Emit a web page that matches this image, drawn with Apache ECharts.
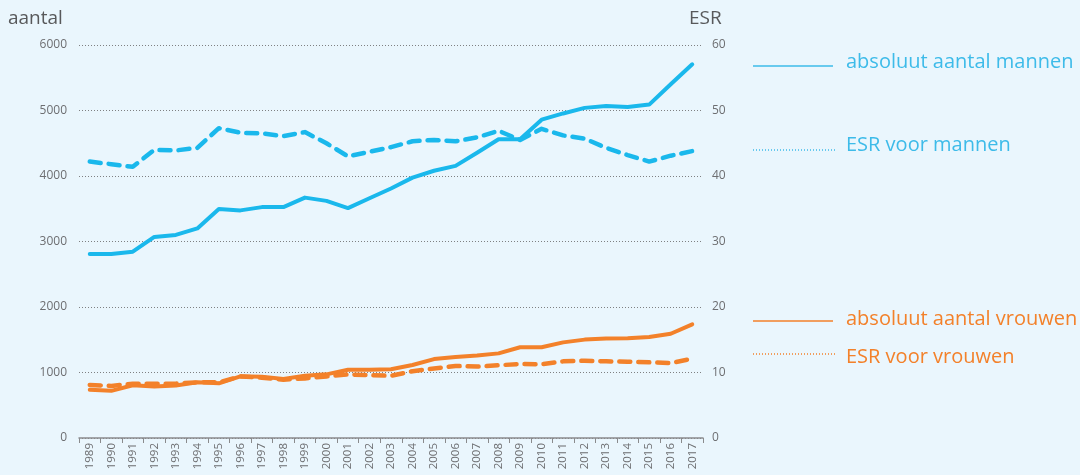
<!DOCTYPE html>
<html>
<head>
<meta charset="utf-8">
<script src="https://cdn.jsdelivr.net/npm/echarts@6/dist/echarts.min.js"></script>
<style>
html,body{margin:0;padding:0;background:#eaf6fd;}
#c{width:1080px;height:475px;}
</style>
</head>
<body>
<div id="c"></div>
<script>
const years = ['1989','1990','1991','1992','1993','1994','1995','1996','1997','1998','1999','2000','2001','2002','2003','2004','2005','2006','2007','2008','2009','2010','2011','2012','2013','2014','2015','2016','2017'];
const menAbs = [2810,2810,2845,3070,3100,3200,3495,3475,3525,3525,3670,3620,3510,3660,3810,3975,4080,4155,4355,4562,4560,4860,4955,5040,5070,5055,5090,5400,5705];
const menESR = [42.2,41.8,41.4,44.0,43.9,44.3,47.3,46.6,46.5,46.1,46.7,45.0,43.0,43.7,44.4,45.3,45.5,45.3,45.9,46.9,45.5,47.2,46.2,45.7,44.3,43.2,42.2,43.1,43.8];
const womenAbs = [735,720,805,785,800,850,835,942,937,900,952,972,1042,1042,1050,1115,1205,1238,1258,1292,1385,1385,1460,1502,1518,1522,1542,1592,1735];
const womenESR = [8.1,7.95,8.3,8.3,8.3,8.5,8.5,9.4,9.2,8.9,9.1,9.4,9.7,9.6,9.5,10.2,10.6,11.0,10.9,11.1,11.3,11.25,11.7,11.8,11.7,11.65,11.55,11.45,12.1];
const leftTicks = [0,1000,2000,3000,4000,5000,6000];
const rightTicks = [0,10,20,30,40,50,60];

const BLUE = '#1ab8ec';
const ORANGE = '#f3812a';
const GREY = '#6d6e71';
const FONT = '"Open Sans", "Noto Sans", sans-serif';

const chart = echarts.init(document.getElementById('c'), null, {renderer:'canvas'});
const dash = [11, 8];
function legendText(x, y, text, color) {
  return {type: 'text', x: x, y: y, style: {text: text, fontSize: 20, fill: color, fontFamily: FONT, verticalAlign: 'middle', align: 'left'}};
}
chart.setOption({
  backgroundColor: '#eaf6fd',
  animation: false,
  textStyle: {fontFamily: FONT},
  grid: {left: 79, right: 377, top: 45, bottom: 37, containLabel: false},
  xAxis: {
    type: 'category',
    data: years,
    boundaryGap: true,
    axisLine: {show: true, lineStyle: {color: '#8a8b8d', width: 1.5}},
    axisTick: {show: true, length: 5, lineStyle: {color: '#8a8b8d'}},
    axisLabel: {rotate: 90, fontSize: 11.5, color: GREY, margin: 5, interval: 0, fontFamily: FONT},
    splitLine: {show: false}
  },
  yAxis: [
    {
      type: 'value', min: leftTicks[0], max: leftTicks[leftTicks.length-1], interval: 1000,
      axisLine: {show: false}, axisTick: {show: false},
      axisLabel: {fontSize: 12, color: GREY, margin: 12, fontFamily: FONT, formatter: function (v) { return String(v); }},
      splitLine: {show: true, lineStyle: {color: '#7f8082', type: [1, 2], width: 1}}
    },
    {
      type: 'value', min: rightTicks[0], max: rightTicks[rightTicks.length-1], interval: 10,
      axisLine: {show: false}, axisTick: {show: false},
      axisLabel: {fontSize: 12, color: GREY, margin: 9, fontFamily: FONT, formatter: function (v) { return String(v); }},
      splitLine: {show: false}
    }
  ],
  series: [
    {name: 'absoluut aantal mannen', type: 'line', data: menAbs, yAxisIndex: 0, symbol: 'none',
     lineStyle: {color: BLUE, width: 4, cap: 'round', join: 'round'}, z: 3},
    {name: 'ESR voor mannen', type: 'line', data: menESR, yAxisIndex: 1, symbol: 'none',
     lineStyle: {color: BLUE, width: 4.5, type: dash, cap: 'round', join: 'round'}, z: 3},
    {name: 'absoluut aantal vrouwen', type: 'line', data: womenAbs, yAxisIndex: 0, symbol: 'none',
     lineStyle: {color: ORANGE, width: 4, cap: 'round', join: 'round'}, z: 3},
    {name: 'ESR voor vrouwen', type: 'line', data: womenESR, yAxisIndex: 1, symbol: 'none',
     lineStyle: {color: ORANGE, width: 4.5, type: dash, cap: 'round', join: 'round'}, z: 3}
  ],
  graphic: [
    {type: 'text', x: 8, y: 19, style: {text: 'aantal', fontSize: 19, fill: '#58595b', fontFamily: FONT, verticalAlign: 'middle'}},
    {type: 'text', x: 689, y: 19, style: {text: 'ESR', fontSize: 19, fill: '#58595b', fontFamily: FONT, verticalAlign: 'middle'}},
    {type: 'line', shape: {x1: 753, y1: 66, x2: 833, y2: 66}, style: {stroke: '#3dbbe9', lineWidth: 1.3}},
    legendText(846, 62, 'absoluut aantal mannen', '#3dbbe9'),
    {type: 'line', shape: {x1: 753, y1: 150, x2: 835, y2: 150}, style: {stroke: '#3dbbe9', lineWidth: 1.3, lineDash: [1, 2]}},
    legendText(846, 145, 'ESR voor mannen', '#3dbbe9'),
    {type: 'line', shape: {x1: 753, y1: 321, x2: 833, y2: 321}, style: {stroke: ORANGE, lineWidth: 1.3}},
    legendText(846, 319, 'absoluut aantal vrouwen', ORANGE),
    {type: 'line', shape: {x1: 753, y1: 354, x2: 835, y2: 354}, style: {stroke: ORANGE, lineWidth: 1.3, lineDash: [1, 2]}},
    legendText(846, 357, 'ESR voor vrouwen', ORANGE)
  ]
});
</script>
</body>
</html>
